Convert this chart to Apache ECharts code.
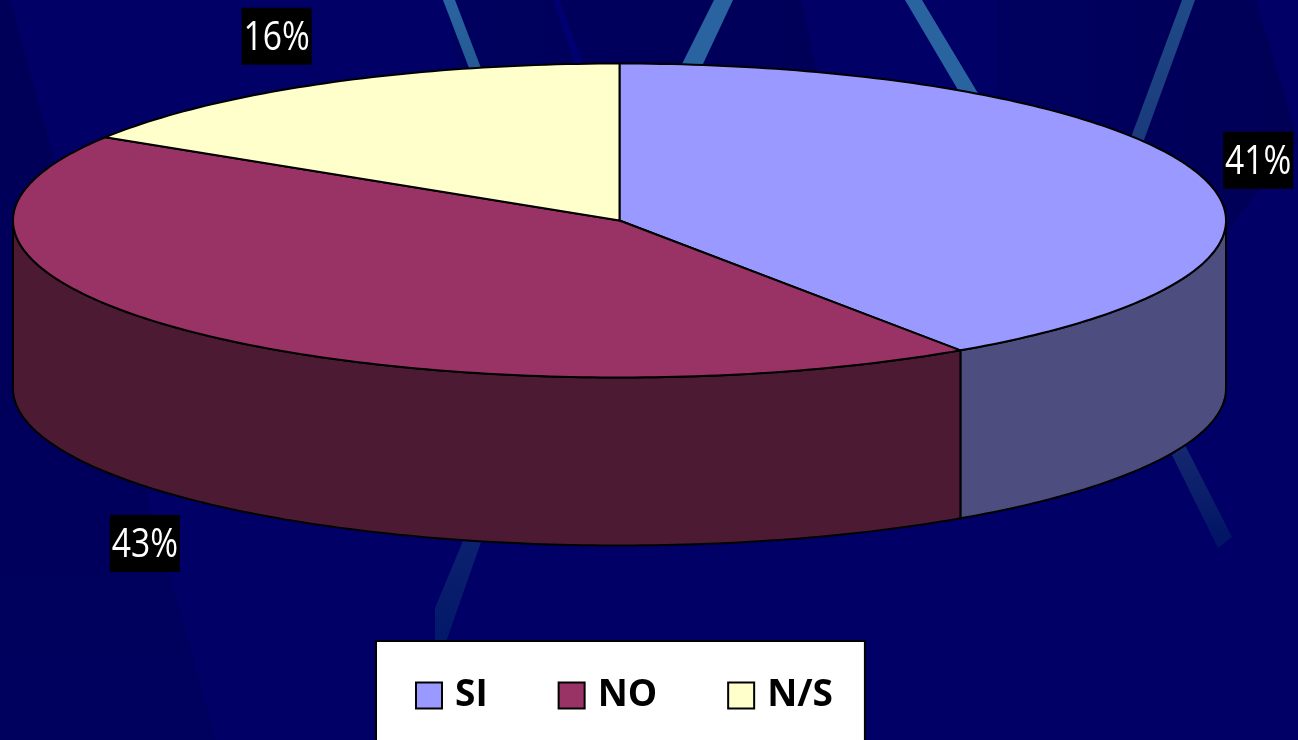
<!DOCTYPE html>
<html>
<head>
<meta charset="utf-8">
<style>html,body{margin:0;padding:0;background:#000066;overflow:hidden}#c{width:1298px;height:740px}</style>
<script src="https://cdn.jsdelivr.net/npm/echarts@6/dist/echarts.min.js"></script>
</head>
<body>
<div id="c"></div>
<script>
const categories = ['SI', 'NO', 'N/S'];
const values = [40.5, 43.4, 16.1];
const topColors = ['#9999FF', '#993366', '#FFFFCC'];
const sideColors = ['#4D4D80', '#4D1A33', '#80806A'];

// Layout of the tilted pie
const CX = 619.5, CY = 220.5, RX = 606.5, RY = 157, DEPTH = 168;
const LABEL_OFFSETS = [[59, -14], [-54, 42], [-49, -47]];
const LABEL_W = 70, LABEL_H = 57;

const total = values.reduce((a, b) => a + b, 0);
const starts = values.map((_, i) => values.slice(0, i).reduce((a, b) => a + b, 0));

function pt(deg, dy) {
  const r = deg * Math.PI / 180;
  return [CX + RX * Math.sin(r), CY - RY * Math.cos(r) + (dy || 0)];
}
function arc(a0, a1, dy) {
  const pts = [], n = Math.max(2, Math.ceil(Math.abs(a1 - a0) / 1));
  for (let i = 0; i <= n; i++) pts.push(pt(a0 + (a1 - a0) * i / n, dy));
  return pts;
}

function renderSlice(params, api) {
  const i = params.seriesIndex;
  const val = api.value(0), start = api.value(1);
  const a0 = start / total * 360, a1 = (start + val) / total * 360;
  const children = [];
  const s0 = Math.max(a0, 90), s1 = Math.min(a1, 270);
  if (s1 > s0) {
    children.push({
      type: 'polygon',
      shape: { points: arc(s0, s1, 0).concat(arc(s1, s0, DEPTH)) },
      style: { fill: sideColors[i], stroke: '#000', lineWidth: 2, lineJoin: 'round' }
    });
  }
  children.push({
    type: 'polygon',
    shape: { points: [[CX, CY]].concat(arc(a0, a1, 0)) },
    style: { fill: topColors[i], stroke: '#000', lineWidth: 2, lineJoin: 'round' }
  });
  const mid = (a0 + a1) / 2;
  const anchor = pt(mid, mid > 90 && mid < 270 ? DEPTH : 0);
  const lx = anchor[0] + LABEL_OFFSETS[i][0], ly = anchor[1] + LABEL_OFFSETS[i][1];
  children.push({
    type: 'rect', z2: 10,
    shape: { x: lx - LABEL_W / 2, y: ly - LABEL_H / 2, width: LABEL_W, height: LABEL_H },
    style: { fill: '#000' }
  });
  children.push({
    type: 'text', z2: 11, x: lx, y: ly + 2, scaleX: 0.82,
    style: {
      text: Math.round(val) + '%', fill: '#fff', align: 'center', verticalAlign: 'middle',
      font: '400 41px "Open Sans", sans-serif'
    }
  });
  return { type: 'group', children };
}

function band(points, c0, c1, x0, y0, x1, y1) {
  return {
    type: 'polygon', silent: true, z: 0,
    shape: { points },
    style: { fill: { type: 'linear', x: x0, y: y0, x2: x1, y2: y1, colorStops: [{ offset: 0, color: c0 }, { offset: 1, color: c1 }] } }
  };
}

const option = {
  animation: false,
  backgroundColor: '#000066',
  graphic: { elements: [
    band([[0,0],[10,0],[216,740],[0,740]], '#000058', '#00005e', 0, 0, 0, 1),
    band([[444,0],[801,0],[830,130],[470,130]], '#00005E', '#000059', 0, 0, 1, 0),
    band([[553,0],[559,0],[586,70],[577,70]], '#000072', '#000070', 0, 0, 0, 1),
    band([[996,0],[1256,0],[1298,140],[1228,230],[996,230]], '#000060', '#000056', 0, 0, 1, 0),
    band([[443,0],[455,0],[481,68],[469,68]], '#2A64A0', '#235A94', 0, 0, 0, 1),
    band([[714,0],[733,0],[702,66],[681,66]], '#2A64A0', '#2A64A0', 0, 0, 0, 1),
    band([[905,0],[922,0],[982,100],[964,100]], '#2A64A0', '#2A64A0', 0, 0, 0, 1),
    band([[1182,0],[1195,0],[1144,140],[1130,140]], '#1F4A88', '#1A3A7C', 0, 0, 0, 1),
    band([[1172,455],[1185,445],[1232,537],[1218,548]], '#14296F', '#001365', 0, 0, 0, 1),
    band([[463,541],[481,542],[446,642],[435,642],[435,608]], '#0C2270', '#021868', 0, 0, 0, 1)
  ] },
  legend: {
    data: categories,
    left: 376, top: 641,
    orient: 'horizontal',
    icon: 'rect',
    itemWidth: 26, itemHeight: 26,
    itemGap: 70,
    padding: [36, 32, 60, 39],
    backgroundColor: '#fff',
    borderColor: '#000', borderWidth: 2, borderRadius: 0,
    selectedMode: false,
    inactiveColor: '#fff',
    itemStyle: { borderColor: '#000', borderWidth: 2 },
    textStyle: { color: '#000', fontFamily: '"Open Sans", sans-serif', fontWeight: 700, fontSize: 37, padding: [0, 0, 0, 8] }
  },
  series: categories.map((name, i) => ({
    type: 'custom',
    name,
    coordinateSystem: 'none',
    silent: true,
    itemStyle: { color: topColors[i] },
    data: [[values[i], starts[i]]],
    renderItem: renderSlice
  }))
};
const chart = echarts.init(document.getElementById('c'), null, { renderer: 'canvas', width: 1298, height: 740 });
chart.setOption(option);
</script>
</body>
</html>
